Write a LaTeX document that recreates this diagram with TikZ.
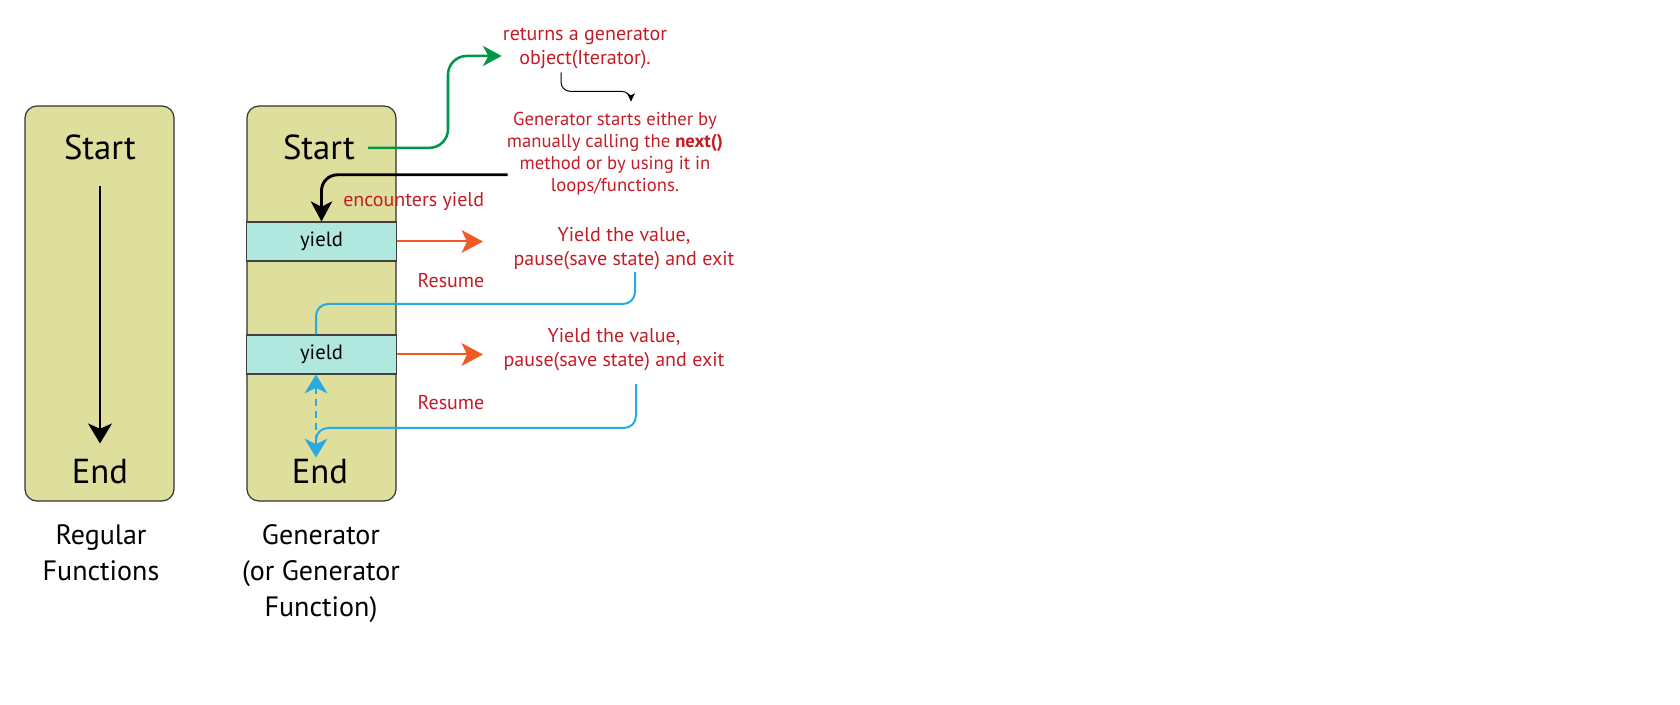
\documentclass[tikz,border=0pt]{standalone}
\usepackage{fontspec}
\setmainfont{PT Sans}
\usepackage{xcolor}
\usetikzlibrary{arrows.meta,positioning}
\definecolor{boxFill}{RGB}{222,223,157}
\definecolor{bandFill}{RGB}{176,232,224}
\definecolor{noteRed}{RGB}{196,28,38}
\definecolor{arrowGreen}{RGB}{0,150,72}
\definecolor{arrowOrange}{RGB}{241,90,36}
\definecolor{arrowBlue}{RGB}{41,171,226}

\begin{document}
\begin{tikzpicture}[x=0.75pt,y=0.75pt,yscale=-1,xscale=1,
  funcbox/.style={draw=black!80, fill=boxFill, line width=0.9pt, rounded corners=9pt,
    minimum width=111.75pt, minimum height=296.25pt, inner sep=0pt},
  bandbox/.style={draw=black!75, fill=bandFill, line width=0.8pt,
    minimum width=112.5pt, minimum height=29.25pt, inner sep=0pt,
    font=\fontsize{15.5pt}{18pt}\selectfont},
  bigword/.style={inner sep=0.75pt, font=\fontsize{26pt}{30pt}\selectfont},
  caption/.style={inner sep=0.75pt, align=center, font=\fontsize{21pt}{27pt}\selectfont},
  note/.style={inner sep=0.75pt, align=center, text=noteRed, font=\fontsize{15pt}{18pt}\selectfont},
  small note/.style={note, font=\fontsize{14pt}{16.5pt}\selectfont},
  flow/.style={draw=black, line width=1.5pt, -{Stealth[length=15pt,width=18pt,inset=4pt]}},
  gen arrow/.style={draw=arrowGreen, line width=1.9pt, rounded corners=14pt,
    -{Stealth[length=14pt,width=15pt,inset=4pt]}},
  next arrow/.style={draw=black, line width=2.2pt, rounded corners=12pt,
    -{Stealth[length=15pt,width=16pt,inset=4pt]}},
  thin arrow/.style={draw=black, line width=0.75pt, rounded corners=7pt,
    -{Stealth[length=6pt,width=6pt,inset=1.5pt]}},
  yield arrow/.style={draw=arrowOrange, line width=1.5pt,
    -{Stealth[length=16pt,width=17pt,inset=4pt]}},
  resume line/.style={draw=arrowBlue, line width=1.5pt, rounded corners=9pt},
  resume dash/.style={draw=arrowBlue, line width=1.5pt, dash pattern=on 5pt off 4pt,
    {Stealth[length=14pt,width=17pt,inset=4pt]}-{Stealth[length=14pt,width=17pt,inset=4pt]}}
]
\useasboundingbox (0,0) rectangle (1680,705);

% the two function bodies
\node[funcbox] (regbox) at (99.5,303.5) {};
\node[funcbox] (genbox) at (321.5,303.5) {};
\node[bandbox] (yieldA) at (321.5,241.5) {yield};
\node[bandbox] (yieldB) at (321.5,354.5) {yield};

% words inside the boxes
\node[bigword, anchor=base] (regstart) at (100,160) {Start};
\node[bigword, anchor=base] (regend) at (100,483) {End};
\node[bigword, anchor=base] (genstart) at (319,160) {Start};
\node[bigword, anchor=base] (genend) at (320,483) {End};

% captions
\node[caption, anchor=north] (reglabel) at (101,523) {Regular\\Functions};
\node[caption, anchor=north] (genlabel) at (321,523) {Generator\\(or Generator\\Function)};

% notes
\node[note, anchor=north] (txtreturns) at (585,27) {returns a generator\\object(Iterator).};
\node[small note, anchor=north] (txtnext) at (615,111) {Generator starts either by\\manually calling the \textbf{next()}\\method or by using it in\\loops/functions.};
\node[note, anchor=base west] (txtenc) at (342,207) {encounters yield};
\node[note, anchor=north] (txtyieldA) at (624,226) {Yield the value,\\pause(save state) and exit};
\node[note, anchor=north] (txtyieldB) at (614,327) {Yield the value,\\pause(save state) and exit};
\node[note, anchor=base] (txtresumeA) at (451,288) {Resume};
\node[note, anchor=base] (txtresumeB) at (451,410) {Resume};

% bend points
\coordinate (greenturn) at (448,0);
\coordinate (turnA) at (316,304);
\coordinate (turnB) at (316,428);

% connectors
\draw[flow, shorten <=18pt, shorten >=10.5pt] (regstart) -- (regend);
\draw[gen arrow, shorten <=9pt] (genstart.east) -- (genstart.east -| greenturn) -- (greenturn |- txtreturns.185) -- (txtreturns.185);
\draw[thin arrow] (txtreturns.south) ++(-24,2) |- ++(70,19) -- ++(0,10);
\draw[next arrow] (txtnext.west) ++(2,21) -| (yieldA.north);
\draw[yield arrow, shorten >=22pt] (yieldA) -- (yieldA -| txtyieldA.west);
\draw[yield arrow, shorten >=22pt] (yieldB) -- (yieldB -| txtyieldA.west);
\draw[resume line] (txtyieldA.south) ++(11,1) |- (turnA) -- (yieldB.north -| turnA);
\draw[resume line] (txtyieldB.south) ++(22,12) |- (turnB) -- ++(0,20);
\draw[resume dash] (yieldB.south -| turnA) -- (genend.north -| turnA);
\end{tikzpicture}
\end{document}
